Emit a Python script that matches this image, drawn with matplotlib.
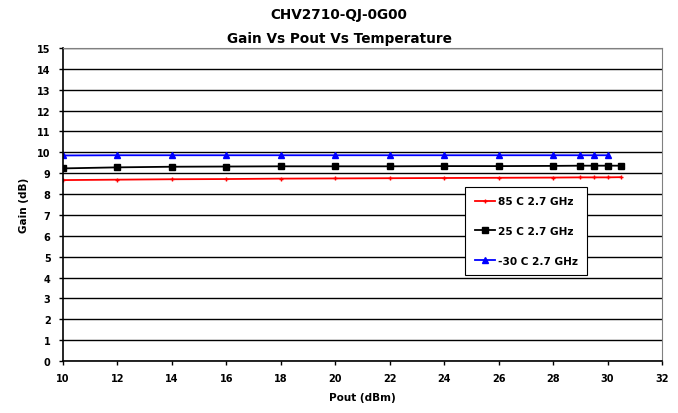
import matplotlib.pyplot as plt

plt.rcParams.update({
    "font.family": ["DejaVu Sans"],
    "font.weight": "bold",
    "font.size": 7,
})

# Data
pout = [10, 12, 14, 16, 18, 20, 22, 24, 26, 28, 29, 29.5, 30, 30.5]
gain_85 = [8.67, 8.69, 8.71, 8.72, 8.74, 8.75, 8.76, 8.77, 8.78, 8.79, 8.80, 8.80, 8.80, 8.81]
gain_25 = [9.23, 9.28, 9.31, 9.32, 9.33, 9.33, 9.33, 9.34, 9.34, 9.35, 9.36, 9.36, 9.36, 9.36]
pout_m30 = [10, 12, 14, 16, 18, 20, 22, 24, 26, 28, 29, 29.5, 30]
gain_m30 = [9.85, 9.86, 9.86, 9.86, 9.86, 9.86, 9.86, 9.86, 9.86, 9.86, 9.86, 9.86, 9.86]

fig = plt.figure(figsize=(6.78, 4.14), dpi=100)
ax = fig.add_axes([63 / 678, 1 - 362 / 414, 599 / 678, 313 / 414])

ax.plot(pout, gain_85, color="red", marker="+", markersize=3, linewidth=1.3,
        label="85 C 2.7 GHz")
ax.plot(pout, gain_25, color="black", marker="s", markersize=5, linewidth=1.3,
        label="25 C 2.7 GHz")
ax.plot(pout_m30, gain_m30, color="blue", marker="^", markersize=5, linewidth=1.3,
        label="-30 C 2.7 GHz")

ax.set_xlim(10, 32)
ax.set_ylim(0, 15)
ax.set_xticks(range(10, 33, 2))
ax.set_yticks(range(0, 16))
ax.grid(axis="y", color="black", linewidth=1)
ax.set_axisbelow(True)

for s in ["top", "right"]:
    ax.spines[s].set_color("gray")
for s in ["left", "bottom"]:
    ax.spines[s].set_color("black")
    ax.spines[s].set_linewidth(1.2)
ax.tick_params(length=3, width=1, pad=6)

ax.set_xlabel("Pout (dBm)", fontsize=7.5, fontweight="bold", labelpad=6)
ax.set_ylabel("Gain (dB)", fontsize=7.5, fontweight="bold", labelpad=6)

fig.text(0.5, 1 - 15 / 414, "CHV2710-QJ-0G00", ha="center", va="center",
         fontsize=9.8, fontweight="bold")
fig.text(0.5, 1 - 39 / 414, "Gain Vs Pout Vs Temperature", ha="center", va="center",
         fontsize=9.8, fontweight="bold")

leg = ax.legend(loc="upper left", bbox_to_anchor=((465 - 63) / 599, (362 - 188) / 313),
                borderaxespad=0,
                fancybox=False, framealpha=1, edgecolor="black", borderpad=0.9,
                labelspacing=1.85, handlelength=1.9, handletextpad=0.3, fontsize=7.6)
leg.get_frame().set_linewidth(0.8)

plt.savefig("out.png", dpi=100)
